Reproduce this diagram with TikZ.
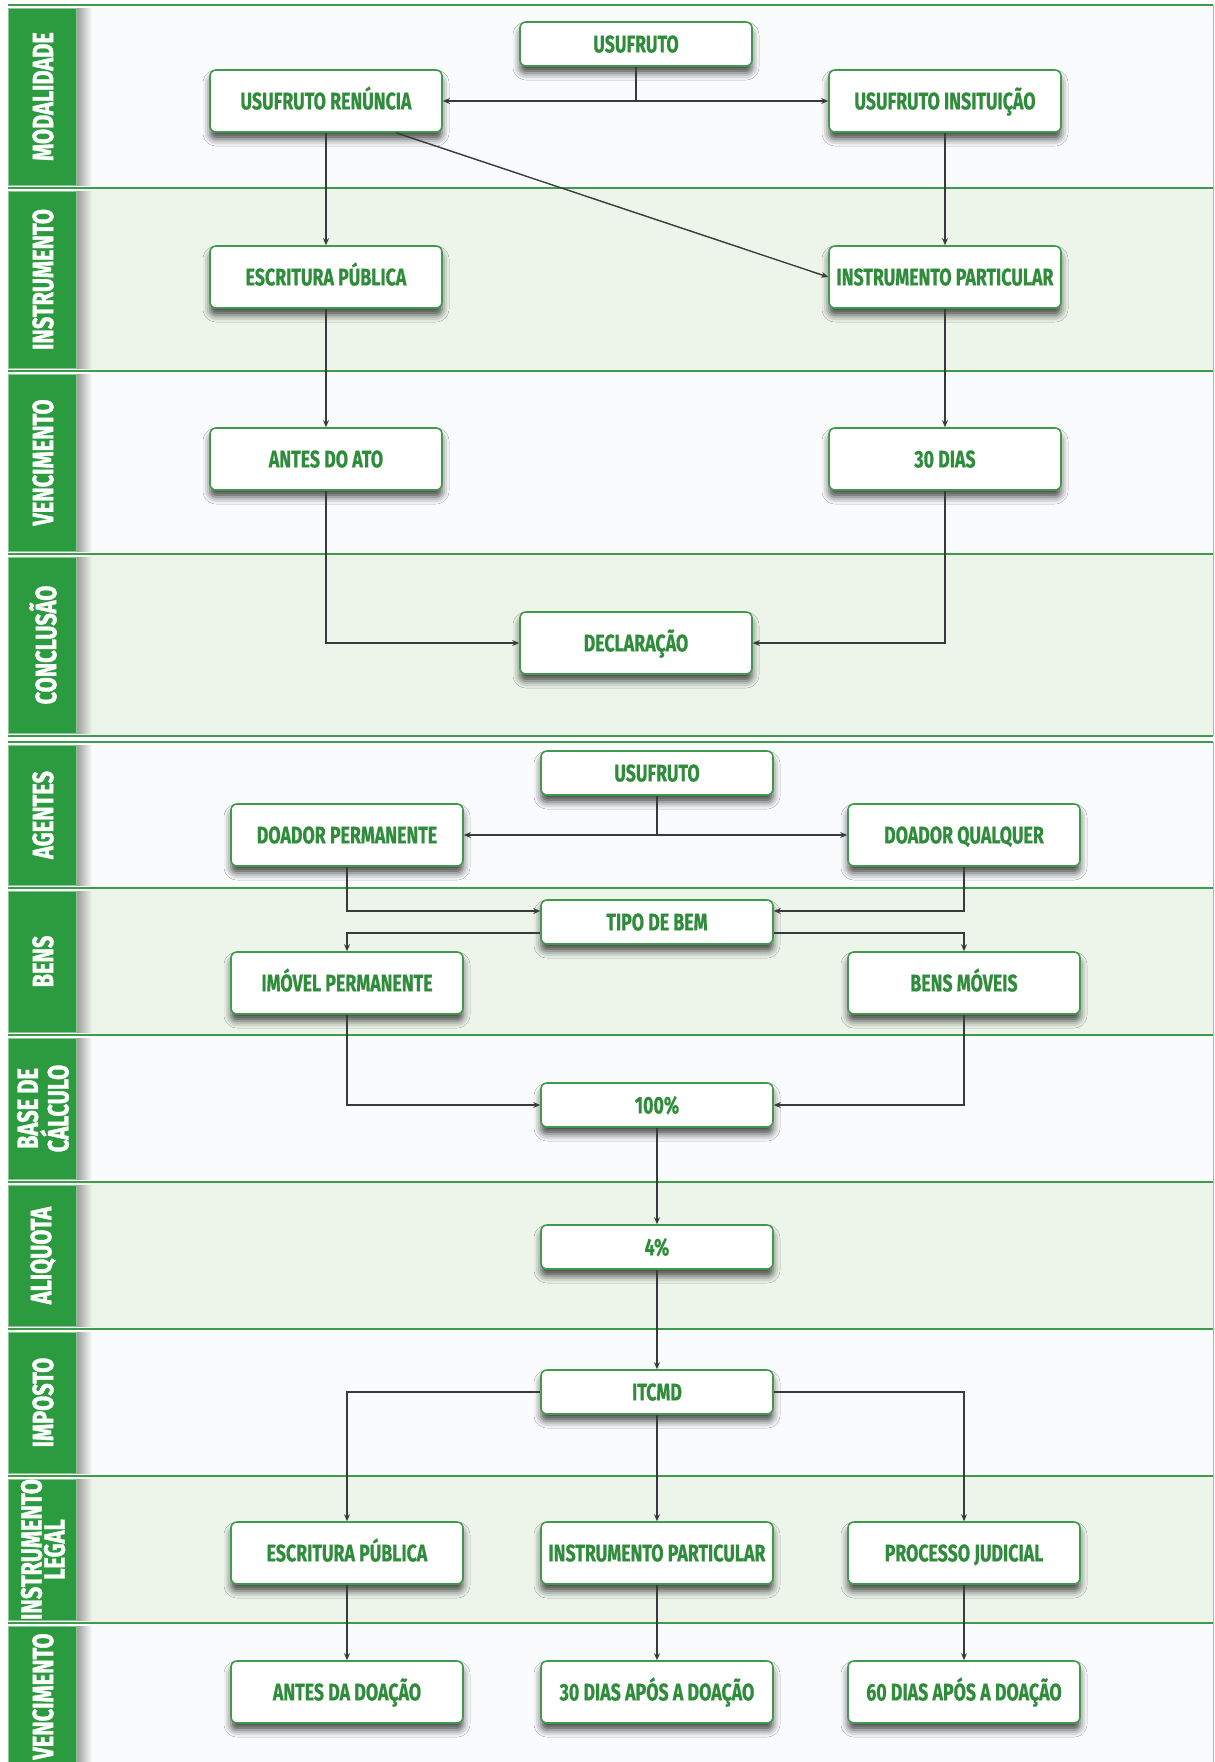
\documentclass[tikz,border=0pt]{standalone}
\usepackage{fontspec}
\setmainfont{Fira Sans}
\newfontfamily\condfont{Fira Sans}[FakeStretch=0.74, FakeBold=0.6]
\newfontfamily\stripfont{Fira Sans}[FakeStretch=0.74, FakeBold=1.2]
\usetikzlibrary{arrows.meta,shadows.blur,calc}

\definecolor{stripgreen}{HTML}{2C9A3E}
\definecolor{textgreen}{HTML}{2E8C3A}
\definecolor{laneline}{HTML}{3F9A4B}
\definecolor{lanetint}{HTML}{EDF5EA}
\definecolor{lanewhite}{HTML}{FAFBFC}
\definecolor{wirecol}{HTML}{3A3A3A}

\begin{document}
\begin{tikzpicture}[x=0.5pt,y=-0.5pt,
  stepbox/.style={draw=laneline, line width=0.8pt, fill=white, rounded corners=3pt,
    minimum width=116pt, minimum height=31pt, inner sep=0pt,
    text height=8.4pt, text depth=0pt,
    font=\condfont\bfseries\fontsize{12}{14}\selectfont, text=textgreen,
    blur shadow={shadow xshift=0pt, shadow yshift=-3.5pt, shadow blur radius=3.5pt, shadow opacity=70}},
  smallbox/.style={stepbox, minimum height=22pt},
  wire/.style={draw=wirecol, line width=0.7pt},
  arr/.style={wire, -{Stealth[length=3.5pt,width=3pt]}},
  lanelabel/.style={rotate=90, text=white, align=center, inner sep=0pt,
    font=\stripfont\bfseries\fontsize{14.7}{11.5}\selectfont},
]
\useasboundingbox (0,0) rectangle (1215,1762);
\clip (0,0) rectangle (1215,1762);
\fill[white] (0,0) rectangle (1215,1762);

% swim lanes: top, bottom, fill colour, label
\foreach \ya/\yb/\col/\lab in {
    5/188/lanewhite/MODALIDADE,
    188/371/lanetint/INSTRUMENTO,
    371/554/lanewhite/VENCIMENTO,
    554/736/lanetint/CONCLUSÃO,
    742/888/lanewhite/AGENTES,
    888/1035/lanetint/BENS,
    1035/1182/lanewhite/{BASE DE\\CÁLCULO},
    1182/1329/lanetint/ALIQUOTA,
    1329/1476/lanewhite/IMPOSTO,
    1476/1623/lanetint/{INSTRUMENTO\\LEGAL},
    1623/1770/lanewhite/VENCIMENTO}{
  \fill[\col] (76,\ya) rectangle (1213,\yb);
  \shade[left color=black!40, right color=\col] (76,\ya+3) rectangle (92,\yb-3);
  \fill[stripgreen, draw=stripgreen!55!white, line width=0.4pt] (8,\ya+3) rectangle (76,\yb-3);
  \node[lanelabel] at (43,{(\ya+\yb)/2}) {\lab};
}
% lane borders
\foreach \y in {5,188,371,554,736,742,888,1035,1182,1329,1476,1623}{
  \draw[laneline, line width=1.1pt] (8,\y) -- (1213,\y);
}
\draw[black!30, line width=0.5pt] (1213,5) -- (1213,736);
\draw[black!30, line width=0.5pt] (1213,742) -- (1213,1770);

% ---------- first flow ----------
\node[smallbox] (u1)   at (636,44)  {USUFRUTO};
\node[stepbox]  (ren)  at (326,101) {USUFRUTO RENÚNCIA};
\node[stepbox]  (ins)  at (945,101) {USUFRUTO INSITUIÇÃO};
\node[stepbox]  (esc1) at (326,277) {ESCRITURA PÚBLICA};
\node[stepbox]  (par1) at (945,277) {INSTRUMENTO PARTICULAR};
\node[stepbox]  (ato)  at (326,459) {ANTES DO ATO};
\node[stepbox]  (d30)  at (945,459) {30 DIAS};
\node[stepbox]  (dec)  at (636,643) {DECLARAÇÃO};

\coordinate (j1) at (u1.south |- ren.east);
\draw[wire] (u1.south) -- (j1);
\draw[arr] (j1) -- (ren.east);
\draw[arr] (j1) -- (ins.west);
\draw[arr] (ren.south) -- (esc1.north);
\draw[arr] ($(ren.south)!0.6!(ren.south east)$) -- (par1.west);
\draw[arr] (ins.south) -- (par1.north);
\draw[arr] (esc1.south) -- (ato.north);
\draw[arr] (par1.south) -- (d30.north);
\draw[arr] (ato.south) |- (dec.west);
\draw[arr] (d30.south) |- (dec.east);

% ---------- second flow ----------
\node[smallbox] (u2)    at (657,773)  {USUFRUTO};
\node[stepbox]  (dp)    at (347,835)  {DOADOR PERMANENTE};
\node[stepbox]  (dq)    at (964,835)  {DOADOR QUALQUER};
\node[smallbox] (tipo)  at (657,922)  {TIPO DE BEM};
\node[stepbox]  (imo)   at (347,983)  {IMÓVEL PERMANENTE};
\node[stepbox]  (mov)   at (964,983)  {BENS MÓVEIS};
\node[smallbox] (cem)   at (657,1105) {100\%};
\node[smallbox] (qua)   at (657,1247) {4\%};
\node[smallbox] (itc)   at (657,1392) {ITCMD};
\node[stepbox]  (esc2)  at (347,1553) {ESCRITURA PÚBLICA};
\node[stepbox]  (par2)  at (657,1553) {INSTRUMENTO PARTICULAR};
\node[stepbox]  (jud)   at (964,1553) {PROCESSO JUDICIAL};
\node[stepbox]  (antes) at (347,1692) {ANTES DA DOAÇÃO};
\node[stepbox]  (d30b)  at (657,1692) {30 DIAS APÓS A DOAÇÃO};
\node[stepbox]  (d60)   at (964,1692) {60 DIAS APÓS A DOAÇÃO};

\coordinate (j2) at (u2.south |- dp.east);
\draw[wire] (u2.south) -- (j2);
\draw[arr] (j2) -- (dp.east);
\draw[arr] (j2) -- (dq.west);
\draw[arr] (dp.south) |- ($(tipo.west)+(0,-11)$);
\draw[arr] (dq.south) |- ($(tipo.east)+(0,-11)$);
\draw[arr] ($(tipo.west)+(0,11)$) -| (imo.north);
\draw[arr] ($(tipo.east)+(0,11)$) -| (mov.north);
\draw[arr] (imo.south) |- (cem.west);
\draw[arr] (mov.south) |- (cem.east);
\draw[arr] (cem.south) -- (qua.north);
\draw[arr] (qua.south) -- (itc.north);
\draw[arr] (itc.west) -| (esc2.north);
\draw[arr] (itc.south) -- (par2.north);
\draw[arr] (itc.east) -| (jud.north);
\draw[arr] (esc2.south) -- (antes.north);
\draw[arr] (par2.south) -- (d30b.north);
\draw[arr] (jud.south) -- (d60.north);
\end{tikzpicture}
\end{document}
